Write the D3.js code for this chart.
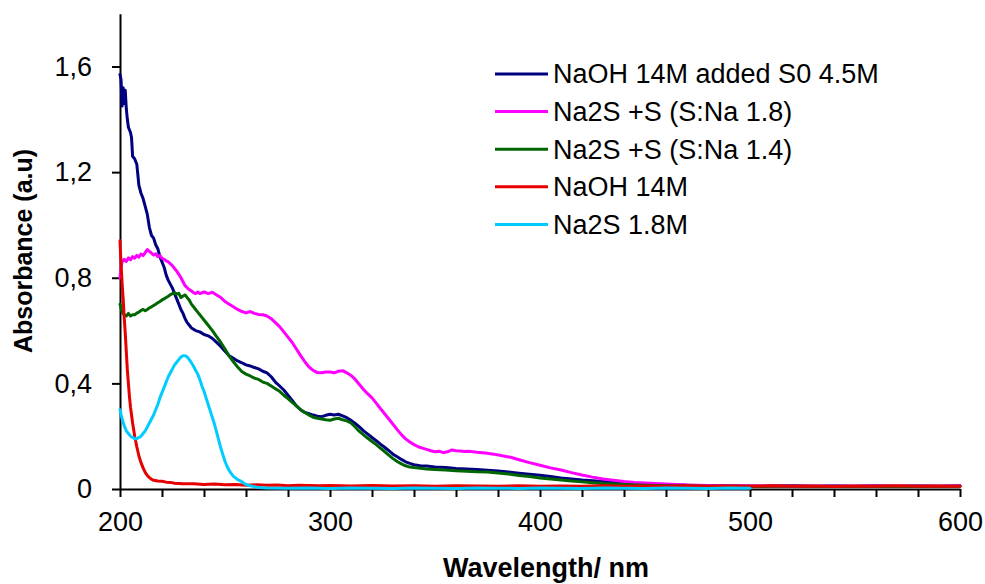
<!DOCTYPE html>
<html><head><meta charset="utf-8">
<script src="https://cdn.jsdelivr.net/npm/d3@7"></script>
<style>
body{margin:0;background:#fff}
text{font-family:"Liberation Sans",Arial,Helvetica,sans-serif;fill:#000}
</style></head>
<body><svg id="c" width="985" height="584"></svg>
<script>
// ---- data (wavelength nm, absorbance a.u.) ----
const seriesNames = ["NaOH 14M added S0 4.5M","Na2S +S (S:Na 1.8)","Na2S +S (S:Na 1.4)","NaOH 14M","Na2S 1.8M"];
const seriesColors = ["#000080","#ff00ff","#006600","#e60000","#00ccff"];
const xTicks = [200,300,400,500,600];
const yTicks = [0,0.4,0.8,1.2,1.6];

const navy = [[200,1.57],[200.5,1.55],[201,1.45],[201.5,1.52],[202,1.46],[202.5,1.51],[203,1.44],[203.5,1.40],[204,1.37],[205,1.35],[205.5,1.33],[206,1.26],[207,1.25],[208,1.23],[209,1.15],[210,1.12],[211,1.10],[212,1.07],[213,1.04],[214,0.99],[215,0.96],[216,0.95],[217,0.925],[218,0.91],[219,0.88],[220,0.86],[221,0.84],[222,0.81],[223,0.79],[224,0.775],[225,0.76],[226,0.74],[227,0.72],[228,0.70],[229,0.68],[230,0.665],[231,0.645],[232,0.63],[233,0.62],[234,0.61],[235,0.605],[236,0.60],[238,0.595],[240,0.585],[242,0.58],[244,0.57],[246,0.555],[248,0.54],[250,0.522],[252,0.505],[254,0.495],[256,0.485],[258,0.478],[260,0.47],[262,0.466],[264,0.46],[266,0.455],[268,0.446],[270,0.44],[272,0.425],[274,0.405],[276,0.39],[278,0.375],[280,0.355],[282,0.335],[284,0.315],[286,0.30],[288,0.29],[290,0.285],[292,0.28],[294,0.276],[296,0.274],[298,0.279],[300,0.283],[302,0.28],[304,0.283],[306,0.277],[308,0.27],[310,0.26],[312,0.248],[314,0.235],[316,0.22],[318,0.208],[320,0.195],[322,0.183],[324,0.17],[326,0.158],[328,0.145],[330,0.132],[332,0.122],[334,0.112],[336,0.103],[338,0.097],[340,0.092],[343,0.088],[346,0.087],[350,0.083],[355,0.081],[360,0.078],[365,0.076],[370,0.074],[375,0.071],[380,0.068],[385,0.064],[390,0.06],[395,0.056],[400,0.052],[405,0.047],[410,0.042],[415,0.038],[420,0.034],[425,0.031],[430,0.028],[440,0.023],[450,0.019],[460,0.016],[470,0.014],[480,0.012],[490,0.011],[500,0.011],[510,0.01],[520,0.012],[530,0.01],[540,0.011],[550,0.01],[560,0.011],[570,0.01],[580,0.011],[590,0.01],[600,0.011]];

const magenta = [[200,0.80],[200.5,0.84],[201,0.86],[202,0.87],[203,0.862],[204,0.875],[205,0.868],[206,0.88],[207,0.874],[208,0.885],[209,0.878],[210,0.89],[211,0.884],[212,0.895],[213,0.907],[214,0.90],[215,0.893],[216,0.886],[217,0.891],[218,0.88],[219,0.884],[220,0.874],[221,0.87],[222,0.864],[223,0.86],[224,0.853],[225,0.845],[226,0.835],[227,0.825],[228,0.813],[229,0.80],[230,0.785],[231,0.77],[232,0.762],[233,0.755],[234,0.75],[235,0.744],[236,0.74],[237,0.746],[238,0.74],[240,0.746],[242,0.74],[244,0.745],[246,0.735],[248,0.725],[250,0.71],[252,0.70],[254,0.69],[256,0.68],[258,0.672],[260,0.667],[262,0.672],[264,0.665],[266,0.661],[268,0.66],[270,0.655],[272,0.645],[274,0.63],[276,0.615],[278,0.595],[280,0.575],[282,0.555],[284,0.53],[286,0.505],[288,0.482],[290,0.462],[292,0.449],[294,0.441],[296,0.44],[298,0.443],[300,0.443],[302,0.44],[304,0.446],[306,0.448],[308,0.44],[310,0.43],[312,0.415],[314,0.396],[316,0.377],[318,0.36],[320,0.345],[322,0.325],[324,0.305],[326,0.285],[328,0.265],[330,0.245],[332,0.225],[334,0.206],[336,0.19],[338,0.178],[340,0.168],[342,0.16],[344,0.155],[346,0.15],[348,0.145],[350,0.141],[352,0.143],[354,0.138],[356,0.141],[358,0.148],[360,0.145],[362,0.144],[364,0.142],[366,0.143],[370,0.139],[374,0.136],[378,0.132],[382,0.126],[386,0.12],[390,0.111],[395,0.10],[400,0.09],[405,0.08],[410,0.072],[415,0.062],[420,0.053],[425,0.045],[430,0.038],[435,0.033],[440,0.028],[445,0.025],[450,0.023],[455,0.021],[460,0.019],[465,0.017],[470,0.015],[480,0.013],[490,0.012],[500,0.011],[510,0.012],[520,0.011],[530,0.01],[540,0.011],[550,0.01],[560,0.012],[570,0.01],[580,0.011],[590,0.01],[600,0.012]];

const green = [[200,0.70],[201,0.67],[202,0.66],[203,0.655],[204,0.665],[205,0.655],[206,0.66],[207,0.66],[208,0.666],[209,0.67],[210,0.676],[211,0.68],[212,0.675],[213,0.68],[214,0.686],[215,0.69],[216,0.695],[217,0.70],[218,0.705],[219,0.71],[220,0.716],[221,0.72],[222,0.725],[223,0.73],[224,0.736],[225,0.74],[226,0.743],[227,0.738],[228,0.741],[229,0.725],[230,0.731],[231,0.735],[232,0.725],[233,0.715],[234,0.70],[235,0.69],[236,0.68],[237,0.67],[238,0.66],[239,0.65],[240,0.64],[242,0.62],[244,0.60],[246,0.577],[248,0.555],[250,0.53],[252,0.503],[254,0.482],[256,0.462],[258,0.445],[260,0.435],[262,0.428],[264,0.42],[266,0.415],[268,0.405],[270,0.40],[272,0.39],[274,0.38],[276,0.37],[278,0.355],[280,0.342],[282,0.328],[284,0.315],[286,0.30],[288,0.29],[290,0.28],[292,0.272],[294,0.268],[296,0.265],[298,0.262],[300,0.26],[302,0.265],[304,0.268],[306,0.262],[308,0.258],[310,0.25],[312,0.235],[314,0.218],[316,0.205],[318,0.192],[320,0.18],[322,0.168],[324,0.155],[326,0.142],[328,0.128],[330,0.115],[332,0.104],[334,0.095],[336,0.088],[338,0.083],[340,0.081],[343,0.079],[346,0.076],[350,0.074],[355,0.072],[360,0.069],[365,0.067],[370,0.065],[375,0.064],[380,0.061],[385,0.057],[390,0.051],[395,0.047],[400,0.042],[405,0.038],[410,0.034],[415,0.03],[420,0.027],[425,0.024],[430,0.021],[440,0.017],[450,0.014],[460,0.012],[470,0.011],[480,0.01],[490,0.01],[500,0.009],[510,0.01],[520,0.01],[530,0.009],[540,0.01],[550,0.009],[560,0.01],[570,0.009],[580,0.01],[590,0.009],[600,0.01]];

const red = [[200,0.94],[200.5,0.85],[201,0.78],[201.5,0.72],[202,0.65],[202.5,0.59],[203,0.52],[203.5,0.45],[204,0.40],[204.5,0.35],[205,0.31],[205.5,0.28],[206,0.25],[207,0.20],[208,0.16],[209,0.125],[210,0.10],[211,0.08],[212,0.063],[213,0.051],[214,0.043],[215,0.037],[216,0.033],[218,0.03],[220,0.029],[222,0.026],[224,0.025],[226,0.022],[228,0.021],[230,0.02],[235,0.02],[240,0.017],[245,0.019],[250,0.016],[255,0.017],[260,0.014],[265,0.016],[270,0.014],[275,0.015],[280,0.012],[285,0.014],[290,0.013],[295,0.012],[300,0.013],[310,0.011],[320,0.013],[330,0.011],[340,0.012],[350,0.01],[360,0.012],[370,0.011],[380,0.01],[390,0.012],[400,0.01],[410,0.011],[420,0.01],[430,0.012],[440,0.01],[450,0.011],[460,0.01],[470,0.012],[480,0.01],[490,0.011],[500,0.01],[510,0.012],[520,0.01],[530,0.011],[540,0.009],[550,0.011],[560,0.01],[570,0.012],[580,0.01],[590,0.011],[600,0.01]];

const cyan = [[200,0.30],[201,0.265],[202,0.24],[203,0.22],[204,0.21],[205,0.20],[206,0.195],[207,0.19],[208,0.19],[209,0.195],[210,0.20],[211,0.21],[212,0.22],[213,0.235],[214,0.25],[215,0.265],[216,0.28],[217,0.30],[218,0.32],[219,0.345],[220,0.365],[221,0.385],[222,0.405],[223,0.425],[224,0.44],[225,0.455],[226,0.47],[227,0.48],[228,0.49],[229,0.50],[230,0.505],[231,0.505],[232,0.50],[233,0.49],[234,0.478],[235,0.465],[236,0.45],[237,0.435],[238,0.415],[239,0.39],[240,0.37],[241,0.345],[242,0.32],[243,0.295],[244,0.27],[245,0.245],[246,0.215],[247,0.185],[248,0.155],[249,0.13],[250,0.105],[251,0.085],[252,0.07],[253,0.058],[254,0.048],[255,0.042],[256,0.036],[257,0.032],[258,0.028],[259,0.022],[260,0.017],[262,0.012],[264,0.009],[266,0.006],[270,0.004],[280,0.003],[290,0.004],[300,0.002],[310,0.004],[320,0.003],[330,0.002],[340,0.004],[350,0.003],[360,0.002],[370,0.004],[380,0.003],[390,0.002],[400,0.004],[410,0.003],[420,0.002],[430,0.004],[440,0.003],[450,0.002],[460,0.004],[470,0.003],[480,0.002],[490,0.004],[500,0.003]];

const allSeries = [navy, magenta, green, red, cyan];

// ---- chart ----
const svg = d3.select("#c");
const x = d3.scaleLinear().domain([200,600]).range([120,960]);
const y = d3.scaleLinear().domain([0,1.8]).range([489,13.7]);

const xAxis = d3.axisBottom(x).tickValues(d3.range(200,601,20)).tickSize(8).tickSizeOuter(0).tickPadding(15)
  .tickFormat(d => xTicks.includes(d) ? String(d) : "");
const yAxis = d3.axisLeft(y).tickValues(yTicks).tickSize(8).tickSizeOuter(0).tickPadding(20)
  .tickFormat(d => d === 0 ? "0" : d3.format(".1f")(d).replace(".", ","));

const gx = svg.append("g").attr("transform","translate(0,489)").call(xAxis);
const gy = svg.append("g").attr("transform","translate(120,0)").call(yAxis);
[gx, gy].forEach(g => {
  g.select(".domain").attr("stroke","#000").attr("stroke-width",2);
  g.selectAll(".tick line").attr("stroke","#000").attr("stroke-width",2);
  g.selectAll(".tick text").style("font-family","'Liberation Sans',Arial,sans-serif").style("font-size","27px").attr("fill","#000");
});

const line = d3.line().x(d => x(d[0])).y(d => y(d[1]));
allSeries.forEach((s, i) => {
  svg.append("path").datum(s).attr("d", line)
    .attr("fill","none").attr("stroke", seriesColors[i]).attr("stroke-width",3)
    .attr("stroke-linejoin","round").attr("stroke-linecap","round");
});

// legend
const leg = svg.append("g");
seriesNames.forEach((n, i) => {
  const yy = 74 + i*37.6;
  leg.append("line").attr("x1",495).attr("x2",548).attr("y1",yy).attr("y2",yy)
    .attr("stroke", seriesColors[i]).attr("stroke-width",3);
  leg.append("text").attr("x",553).attr("y",yy).attr("dy","0.35em")
    .style("font-size","27px").text(n);
});

// axis titles
svg.append("text").attr("x",546).attr("y",577).attr("text-anchor","middle")
  .style("font-size","27px").style("font-weight","bold").text("Wavelength/ nm");
svg.append("text").attr("transform","translate(32,251) rotate(-90)").attr("text-anchor","middle")
  .style("font-size","25px").style("font-weight","bold").text("Absorbance (a.u)");
</script></body></html>
